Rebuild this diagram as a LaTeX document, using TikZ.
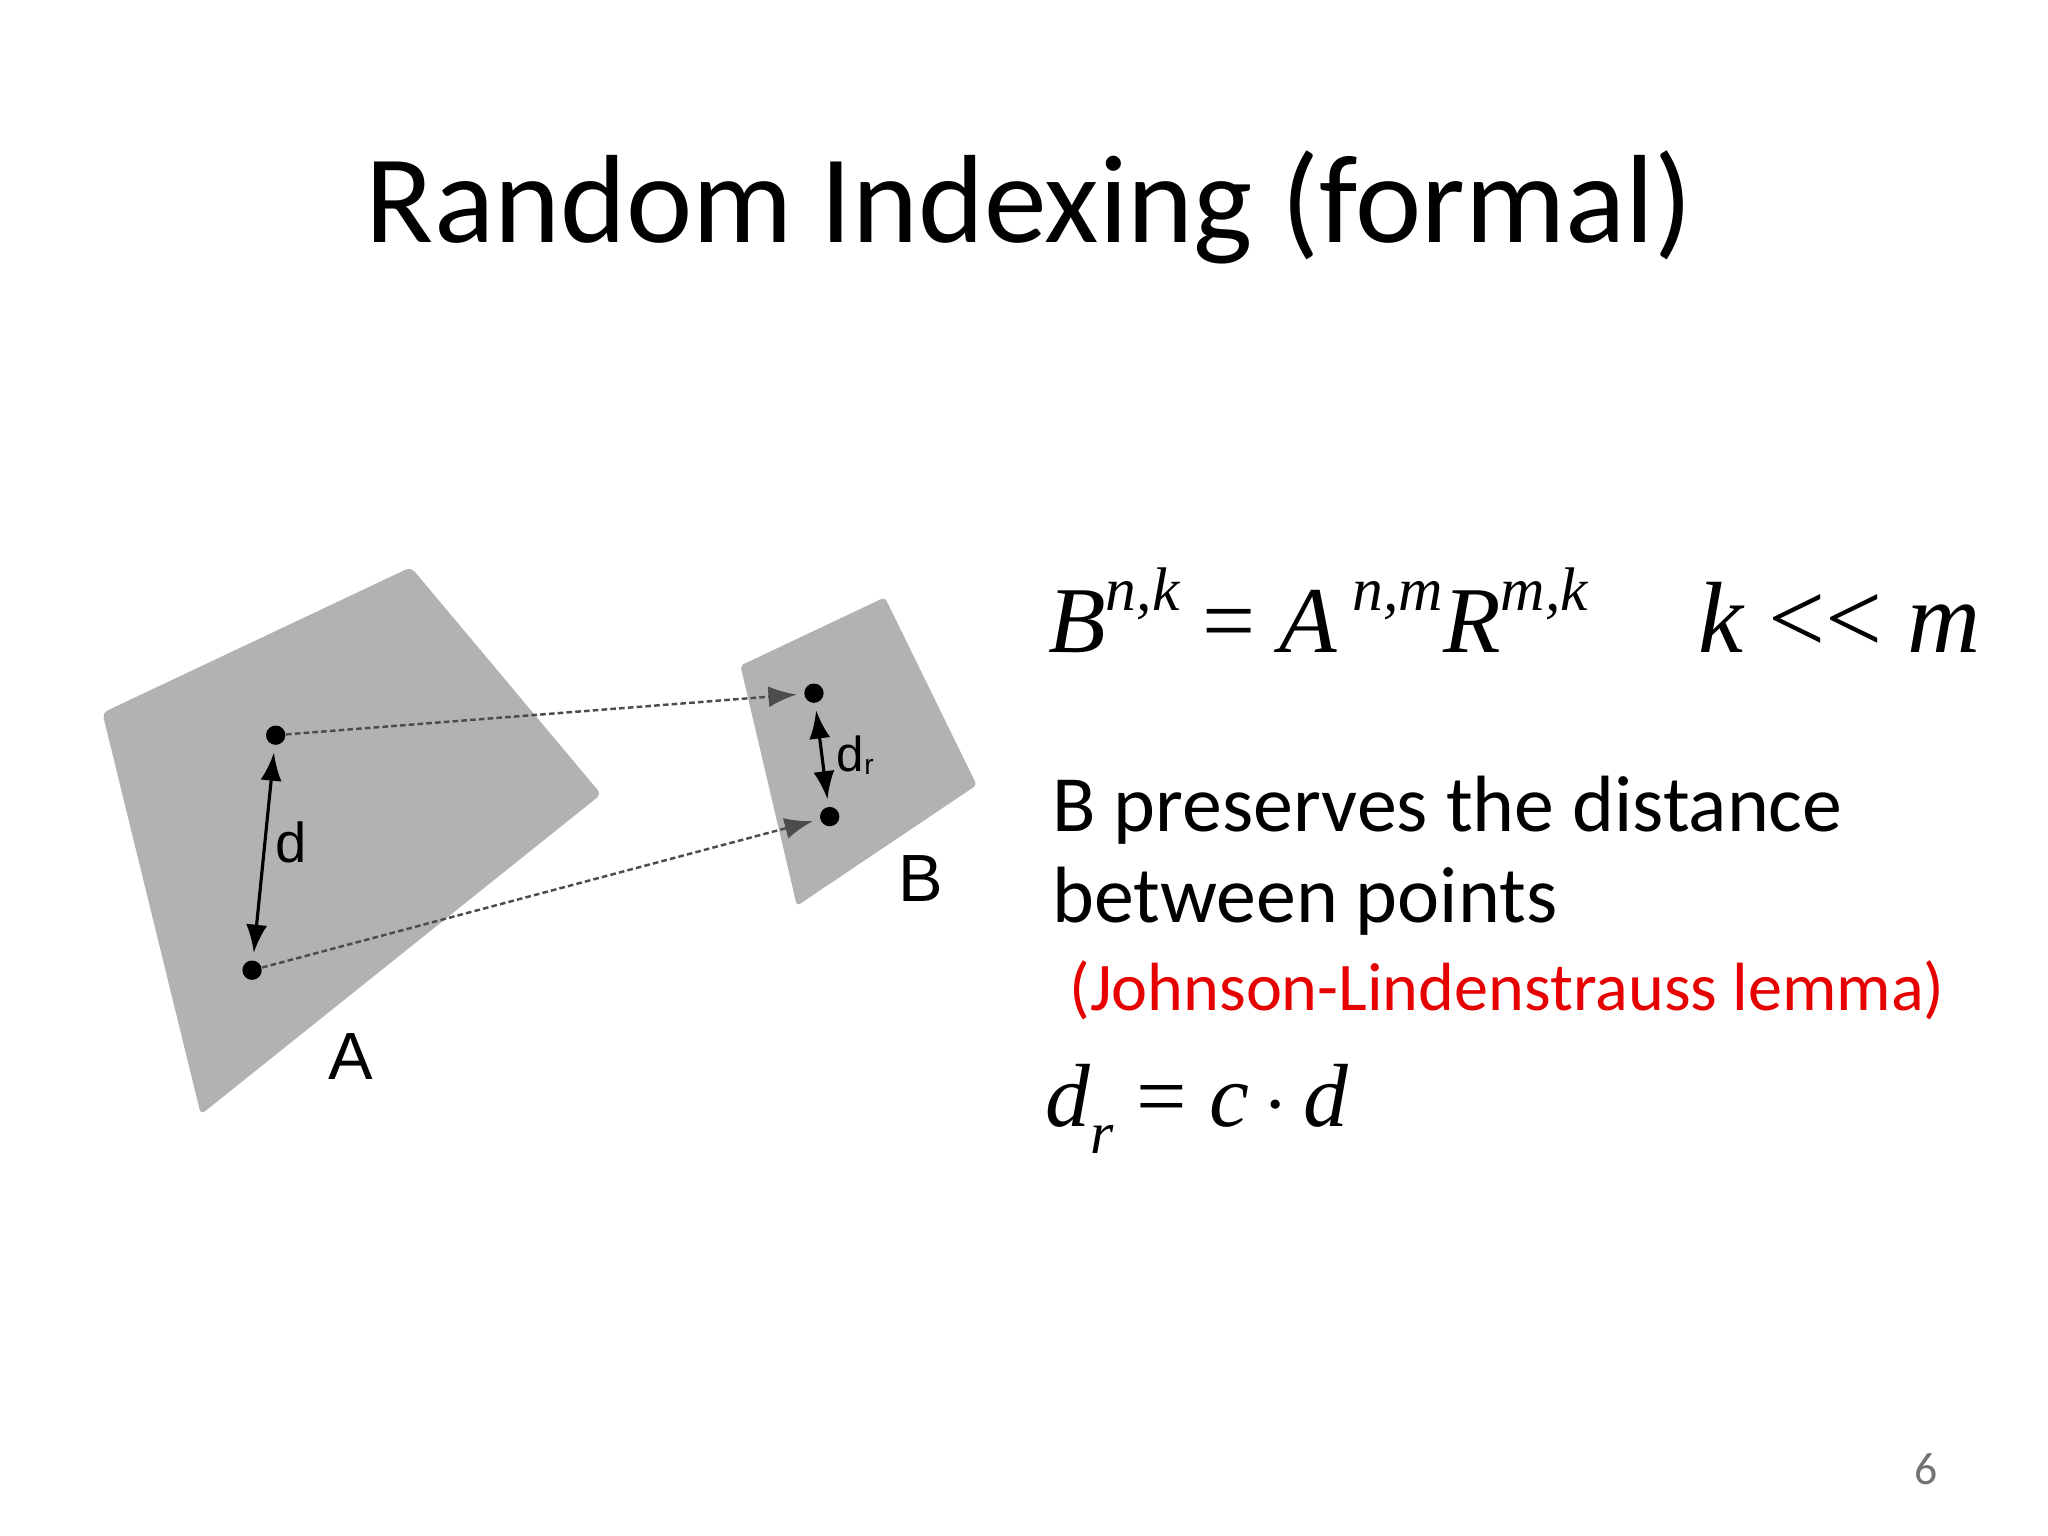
\documentclass[tikz,border=0pt]{standalone}
\usepackage{fontspec}
\setmainfont{Carlito}
\newfontfamily\tms{Liberation Serif}
\newfontfamily\arl{Liberation Sans}
\usetikzlibrary{arrows.meta}
\begin{document}
\begin{tikzpicture}[x=0.013125cm,y=-0.013125cm,
  plane/.style={fill=black!30,draw=none},
  pt/.style={circle,fill=black,inner sep=0pt,minimum size=5.5pt},
  proj/.style={dash pattern=on 1.6pt off 0.9pt,draw=black!70,line width=0.7pt,-{Latex[length=8pt,width=6pt]},shorten >=2pt},
  dist/.style={line width=0.9pt,{Latex[length=8pt,width=6pt]}-{Latex[length=8pt,width=6pt]},shorten >=2pt,shorten <=2pt},
  lbl/.style={anchor=base west,inner sep=0pt}]
\useasboundingbox (0,0) rectangle (1560,1170);
\fill[white] (0,0) rectangle (1560,1170);
\node[anchor=base,inner sep=0pt,font=\fontsize{35.7}{42}\selectfont] (title) at (784,185) {Random Indexing (formal)};
\fill[plane,rounded corners=1.5pt] (78,543) -- (313,432) -- (458,605) -- (153,849) -- cycle;
\fill[plane,rounded corners=1pt] (564,507) -- (674,455) -- (744,598) -- (607,690) -- cycle;
\node[pt] (p1) at (210,560) {};
\node[pt] (p2) at (192,739) {};
\node[pt] (q1) at (620,528) {};
\node[pt] (q2) at (632,622) {};
\draw[proj] (p1) -- (q1);
\draw[proj] (p2) -- (q2);
\draw[dist] (p1) -- (p2);
\draw[dist] (q1) -- (q2);
\node[lbl,font=\arl\fontsize{16}{18}\selectfont] (dl) at (209,657) {d};
\node[lbl,font=\arl\fontsize{14}{16}\selectfont] (drl) at (637,588) {d\raisebox{-0.05em}{\fontsize{8}{9}\selectfont r}};
\node[lbl,font=\arl\fontsize{19}{22}\selectfont] (Al) at (250,822) {A};
\node[lbl,font=\arl\fontsize{19}{22}\selectfont] (Bl) at (684,687) {B};
\node[lbl,font=\fontsize{26.8}{32}\selectfont] (eq) at (798,497) {\tms\itshape B\raisebox{0.45em}{\fontsize{17.5}{20}\selectfont n,k} \upshape= \itshape A\raisebox{0.45em}{\fontsize{17.5}{20}\selectfont\ n,m}R\raisebox{0.45em}{\fontsize{17.5}{20}\selectfont m,k}};
\node[lbl,font=\fontsize{28.8}{34}\selectfont] (km) at (1293,497) {\tms\itshape k \upshape\textless\textless\ \itshape m};
\node[lbl,font=\fontsize{22.7}{28}\selectfont] (t1) at (801,633) {B preserves the distance};
\node[lbl,font=\fontsize{19.4}{24}\selectfont,text={rgb,255:red,230;green,0;blue,0}] (t3) at (814,770) {(Johnson-Lindenstrauss lemma)};
\node[lbl,font=\fontsize{22.7}{28}\selectfont] (t2) at (801,703) {between points};
\node[lbl,font=\fontsize{25.5}{30}\selectfont] (dr) at (796,858) {\tms\itshape d\raisebox{-0.3em}{\fontsize{17}{20}\selectfont r} \upshape= \itshape c\,\upshape$\cdot$\,\itshape d};
\node[anchor=base,inner sep=0pt,font=\fontsize{13}{15}\selectfont,text=black!55] (pg) at (1467,1131) {6};
\end{tikzpicture}
\end{document}
